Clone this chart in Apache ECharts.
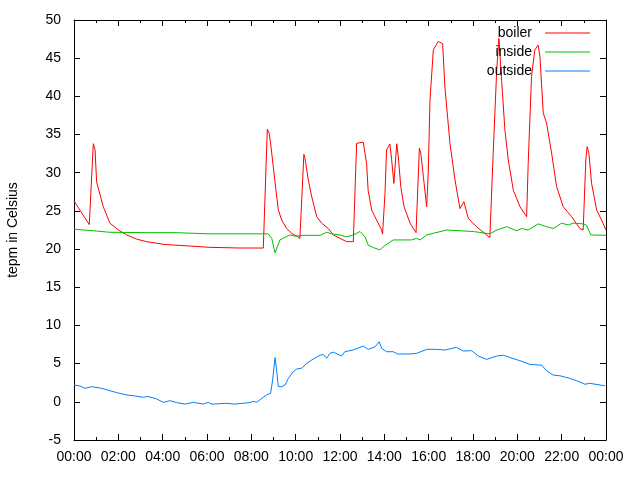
<!DOCTYPE html>
<html>
<head>
<meta charset="utf-8">
<script src="https://cdn.jsdelivr.net/npm/echarts@6/dist/echarts.min.js"></script>
<style>
  html, body { margin: 0; padding: 0; background: #fff; }
  #chart { width: 640px; height: 480px; }
</style>
</head>
<body>
<div id="chart"></div>
<script>
// [hour of day, temperature]
const boiler = [
  [0, 26.3], [0.69, 23.2], [0.87, 33.8], [0.95, 33.0], [1.02, 28.8], [1.32, 25.55],
  [1.62, 23.4], [2.0, 22.5], [2.38, 21.85], [2.83, 21.3], [3.28, 20.97], [4.1, 20.6],
  [5.23, 20.4], [6.13, 20.23], [7.49, 20.14], [8.54, 20.14], [8.72, 35.7], [8.8, 35.2],
  [8.87, 33.85], [8.99, 30.8], [9.11, 27.7], [9.22, 25.1], [9.37, 23.8], [9.59, 22.7],
  [9.82, 22.07], [10.05, 21.7], [10.19, 21.4], [10.37, 32.4], [10.42, 31.9], [10.57, 29.05],
  [10.72, 26.9], [10.95, 24.24], [11.17, 23.4], [11.47, 22.7], [11.7, 21.85], [12.0, 21.4],
  [12.3, 20.97], [12.6, 20.97], [12.75, 33.85], [13.05, 34.0], [13.13, 34.0], [13.2, 31.2],
  [13.27, 27.7], [13.43, 25.1], [13.65, 23.8], [13.88, 22.5], [13.92, 21.97], [14.03, 27.3],
  [14.1, 33.0], [14.25, 33.76], [14.33, 31.7], [14.43, 28.6], [14.56, 33.8], [14.63, 32.1],
  [14.74, 28.2], [14.89, 25.55], [15.16, 23.4], [15.43, 22.15], [15.58, 33.2], [15.65, 32.5],
  [15.76, 29.5], [15.91, 25.55], [15.98, 29.9], [16.06, 39.5], [16.21, 46.1], [16.43, 47.2],
  [16.63, 46.9], [16.73, 41.3], [16.96, 33.85], [17.19, 29.05], [17.41, 25.3], [17.59, 26.2],
  [17.79, 24.0], [18.16, 22.93], [18.76, 21.5], [18.91, 32.5], [19.07, 43.45], [19.17, 47.6],
  [19.29, 42.1], [19.44, 35.6], [19.59, 31.7], [19.82, 27.7], [20.12, 25.55], [20.42, 24.24],
  [20.49, 31.2], [20.64, 42.6], [20.79, 46.1], [20.94, 46.7], [21.02, 45.2], [21.17, 37.8],
  [21.32, 36.5], [21.55, 32.5], [21.77, 28.2], [22.07, 25.55], [22.45, 24.24], [22.82, 22.7],
  [22.97, 22.5], [23.09, 31.7], [23.15, 33.4], [23.23, 32.5], [23.35, 28.6], [23.58, 25.1],
  [23.8, 23.8], [24.0, 22.5]
];

const inside = [
  [0, 22.6], [0.87, 22.4], [1.62, 22.2], [3.28, 22.15], [4.63, 22.15], [5.38, 22.07],
  [6.13, 22.0], [8.76, 22.0], [8.92, 21.4], [9.07, 19.5], [9.29, 21.2], [9.52, 21.55],
  [9.74, 21.85], [9.97, 21.7], [10.34, 21.8], [11.1, 21.8], [11.4, 22.2], [11.62, 22.0],
  [12.0, 21.85], [12.3, 21.6], [12.6, 21.85], [12.9, 22.3], [13.13, 21.6], [13.28, 20.5],
  [13.5, 20.2], [13.8, 19.9], [13.95, 20.3], [14.4, 21.2], [15.23, 21.2], [15.46, 21.4],
  [15.61, 21.2], [15.91, 21.85], [16.21, 22.07], [16.81, 22.5], [17.41, 22.4], [18.01, 22.3],
  [18.76, 22.0], [19.07, 22.5], [19.52, 22.93], [19.97, 22.4], [20.19, 22.7], [20.49, 22.5],
  [20.94, 23.3], [21.32, 22.93], [21.62, 22.7], [22.0, 23.4], [22.3, 23.15], [22.52, 23.4],
  [22.97, 23.3], [23.12, 23.15], [23.31, 21.85], [24.0, 21.8]
];

const outside = [
  [0, 2.2], [0.27, 2.07], [0.5, 1.77], [0.8, 1.98], [1.25, 1.77], [1.62, 1.45],
  [1.93, 1.2], [2.38, 0.9], [2.67, 0.8], [3.13, 0.6], [3.35, 0.7], [3.73, 0.37],
  [4.03, -0.07], [4.33, 0.15], [4.63, -0.1], [5.01, -0.3], [5.38, -0.07], [5.83, -0.3],
  [6.06, -0.07], [6.21, -0.3], [6.89, -0.2], [7.26, -0.3], [7.34, -0.1], [7.94, -0.1],
  [8.09, 0.07], [8.24, -0.07], [8.47, 0.45], [8.69, 0.9], [8.87, 1.1], [8.96, 2.85],
  [9.07, 5.8], [9.14, 4.16], [9.22, 1.98], [9.37, 1.98], [9.52, 2.2], [9.67, 3.07],
  [9.89, 3.94], [10.05, 4.3], [10.27, 4.4], [10.5, 5.04], [10.79, 5.6], [11.1, 6.1],
  [11.25, 6.2], [11.4, 5.7], [11.55, 6.35], [11.7, 6.5], [12.07, 6.0], [12.22, 6.56],
  [12.6, 6.8], [13.05, 7.3], [13.27, 6.87], [13.58, 7.2], [13.77, 7.87], [13.88, 7.0],
  [14.1, 6.56], [14.4, 6.56], [14.6, 6.26], [15.16, 6.26], [15.46, 6.35], [15.91, 6.87],
  [16.36, 6.87], [16.43, 7.13], [16.73, 6.78], [17.26, 7.13], [17.56, 6.65], [17.94, 6.7],
  [18.24, 6.0], [18.61, 5.56], [19.07, 6.0], [19.37, 6.1], [19.67, 5.8], [20.12, 5.38],
  [20.57, 4.9], [21.1, 4.8], [21.32, 4.07], [21.62, 3.5], [21.92, 3.41], [22.37, 3.07],
  [22.67, 2.77], [23.05, 2.3], [23.27, 2.42], [23.95, 2.1]
];

const seriesNames = ["boiler", "inside", "outside"];
const seriesColors = ["#ff0000", "#00c000", "#0080ff"];

const font = "Liberation Sans";
const black = "#000";

const chart = echarts.init(document.getElementById("chart"), null, { renderer: "canvas" });

const hourLabel = (v) => {
  const h = Math.round(v) % 24;
  return (h < 10 ? "0" : "") + h + ":00";
};

const boxAxis = {
  axisLine: { show: true, onZero: false, lineStyle: { color: black, width: 1 } },
  splitLine: { show: false },
};

const option = {
  animation: false,
  backgroundColor: "#fff",
  grid: { left: 74, right: 34, top: 20, bottom: 40, outerBoundsMode: "none" },
  legend: {
    orient: "vertical",
    right: 45,
    top: 21,
    align: "right",
    itemWidth: 45,
    itemHeight: 1,
    itemGap: 5,
    icon: "rect",
    textStyle: { fontFamily: font, fontSize: 14, color: "#000", padding: [0, 8, 0, 0] },
    data: seriesNames,
  },
  xAxis: [
    {
      ...boxAxis,
      type: "value",
      min: 0,
      max: 24,
      interval: 2,
      position: "bottom",
      axisTick: { show: true, inside: true, length: 6, lineStyle: { color: black } },
      minorTick: { show: true, splitNumber: 2, length: 3, lineStyle: { color: black } },
      minorSplitLine: { show: false },
      axisLabel: {
        fontFamily: font,
        fontSize: 14,
        color: "#000",
        margin: 10,
        formatter: hourLabel,
      },
    },
    {
      ...boxAxis,
      type: "value",
      min: 0,
      max: 24,
      interval: 2,
      position: "top",
      axisTick: { show: true, inside: true, length: 6, lineStyle: { color: black } },
      minorTick: { show: true, splitNumber: 2, length: 3, lineStyle: { color: black } },
      minorSplitLine: { show: false },
      axisLabel: { show: false },
    },
  ],
  yAxis: [
    {
      ...boxAxis,
      type: "value",
      min: -5,
      max: 50,
      interval: 5,
      position: "left",
      name: "tepm in Celsius",
      nameLocation: "middle",
      nameGap: 54,
      nameRotate: 90,
      nameTextStyle: { fontFamily: font, fontSize: 14, color: "#000" },
      axisTick: { show: true, inside: true, length: 6, lineStyle: { color: black } },
      axisLabel: { fontFamily: font, fontSize: 14, color: "#000", margin: 13 },
    },
    {
      ...boxAxis,
      type: "value",
      min: -5,
      max: 50,
      interval: 5,
      position: "right",
      axisTick: { show: true, inside: true, length: 6, lineStyle: { color: black } },
      axisLabel: { show: false },
    },
  ],
  series: [boiler, inside, outside].map((d, i) => ({
    name: seriesNames[i],
    type: "line",
    data: d,
    xAxisIndex: 0,
    yAxisIndex: 0,
    showSymbol: false,
    symbol: "none",
    color: seriesColors[i],
    lineStyle: { width: 1, color: seriesColors[i] },
  })),
};

chart.setOption(option);
</script>
</body>
</html>
